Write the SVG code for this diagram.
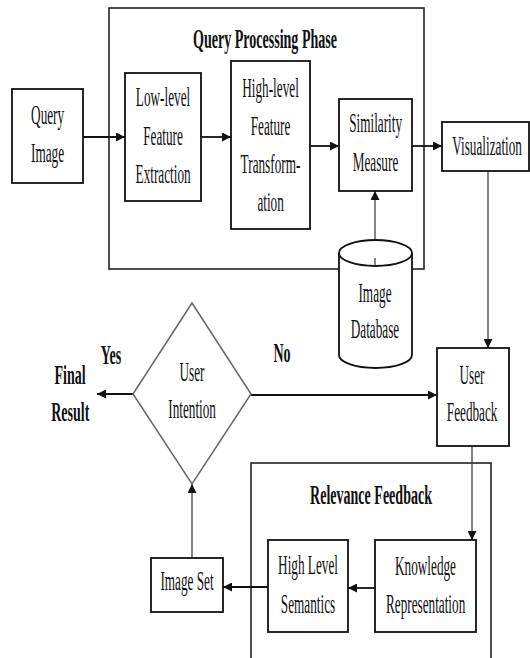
<svg xmlns="http://www.w3.org/2000/svg" width="530" height="658" viewBox="0 0 530 658">
<style>
.bg{fill:#fff}
.box{fill:#fff;stroke:#111;stroke-width:1.8}
.frame{fill:none;stroke:#222;stroke-width:1.6}
.dia{fill:#fff;stroke:#666;stroke-width:1.5}
.t{font-family:"Liberation Serif","Times New Roman",serif;font-size:27px;fill:#111;text-anchor:middle;transform-box:fill-box;transform-origin:center;transform:scaleX(0.49)}
.b{font-weight:bold;transform:scaleX(0.52)}
.c{fill:none;stroke:#111;stroke-width:1.8}
.c2{fill:none;stroke:#333;stroke-width:1.2}
</style>
<defs>
<marker id="ah" viewBox="0 0 10 10" markerWidth="9" markerHeight="9" refX="10" refY="5" orient="auto" markerUnits="userSpaceOnUse">
<path d="M0,0 L10,5 L0,10 z" fill="#111"/>
</marker>
</defs>
<rect class="bg" x="0" y="0" width="530" height="658"/>

<g id="query-processing-phase">
<rect class="frame" x="109" y="8" width="315" height="261"/>
<text class="t b" x="265" y="48">Query Processing Phase</text>
</g>

<g id="relevance-feedback">
<rect class="frame" x="251" y="463" width="240" height="240"/>
<text class="t b" x="371" y="504">Relevance Feedback</text>
</g>

<g id="connectors">
<line class="c" x1="83" y1="137" x2="125" y2="137" marker-end="url(#ah)"/>
<line class="c" x1="201" y1="137" x2="231" y2="137" marker-end="url(#ah)"/>
<line class="c" x1="310" y1="146" x2="339" y2="146" marker-end="url(#ah)"/>
<line class="c" x1="412" y1="146" x2="442" y2="146" marker-end="url(#ah)"/>
<line class="c2" x1="375" y1="258" x2="375" y2="191" marker-end="url(#ah)"/>
<line class="c2" x1="488" y1="171" x2="488" y2="348" marker-end="url(#ah)"/>
<line class="c" x1="251" y1="395" x2="437" y2="395" marker-end="url(#ah)"/>
<line class="c" x1="133" y1="394" x2="97" y2="394" marker-end="url(#ah)"/>
<line class="c2" x1="472" y1="446" x2="472" y2="540" marker-end="url(#ah)"/>
<line class="c" x1="375" y1="588" x2="348" y2="588" marker-end="url(#ah)"/>
<line class="c" x1="268" y1="587" x2="223" y2="587" marker-end="url(#ah)"/>
<line class="c2" x1="192" y1="558" x2="192" y2="484" marker-end="url(#ah)"/>
</g>

<g id="query-image">
<rect class="box" x="12" y="89" width="71" height="94"/>
<text class="t" x="47.5" y="124">Query</text>
<text class="t" x="47.5" y="162">Image</text>
</g>

<g id="low-level">
<rect class="box" x="125" y="73" width="76" height="128"/>
<text class="t" x="163" y="106">Low-level</text>
<text class="t" x="163" y="145">Feature</text>
<text class="t" x="163" y="183">Extraction</text>
</g>

<g id="high-level">
<rect class="box" x="231" y="61" width="79" height="168"/>
<text class="t" x="270.5" y="97">High-level</text>
<text class="t" x="270.5" y="135">Feature</text>
<text class="t" x="270.5" y="173">Transform-</text>
<text class="t" x="270.5" y="211">ation</text>
</g>

<g id="similarity">
<rect class="box" x="339" y="99" width="73" height="92"/>
<text class="t" x="375.5" y="132">Similarity</text>
<text class="t" x="375.5" y="171">Measure</text>
</g>

<g id="visualization">
<rect class="box" x="442" y="122" width="87" height="49"/>
<text class="t" x="487" y="155">Visualization</text>
</g>

<g id="image-database">
<path class="box" d="M339,253 A36.5,13 0 0 1 412,253 L412,355 A36.5,13 0 0 1 339,355 Z"/>
<path class="box" d="M339,253 A36.5,13 0 0 0 412,253"/>
<line class="c2" x1="375" y1="258" x2="375" y2="266"/>
<text class="t" x="375" y="302">Image</text>
<text class="t" x="375" y="338">Database</text>
</g>

<g id="user-feedback">
<rect class="box" x="437" y="348" width="72" height="98"/>
<text class="t" x="472" y="384">User</text>
<text class="t" x="472" y="421">Feedback</text>
</g>

<g id="user-intention">
<path class="dia" d="M192,303 L251,394 L192,484 L133,394 Z"/>
<text class="t" x="192" y="381">User</text>
<text class="t" x="192" y="418">Intention</text>
</g>

<g id="labels">
<text class="t b" x="111" y="364">Yes</text>
<text class="t b" x="282" y="362">No</text>
</g>

<g id="final-result">
<text class="t b" x="70" y="384">Final</text>
<text class="t b" x="70" y="421">Result</text>
</g>

<g id="knowledge">
<rect class="box" x="375" y="540" width="101" height="92"/>
<text class="t" x="425.5" y="575">Knowledge</text>
<text class="t" x="425.5" y="613">Representation</text>
</g>

<g id="high-level-semantics">
<rect class="box" x="268" y="540" width="80" height="92"/>
<text class="t" x="308" y="574">High Level</text>
<text class="t" x="308" y="613">Semantics</text>
</g>

<g id="image-set">
<rect class="box" x="151" y="558" width="72" height="54"/>
<text class="t" x="187" y="590">Image Set</text>
</g>
</svg>
